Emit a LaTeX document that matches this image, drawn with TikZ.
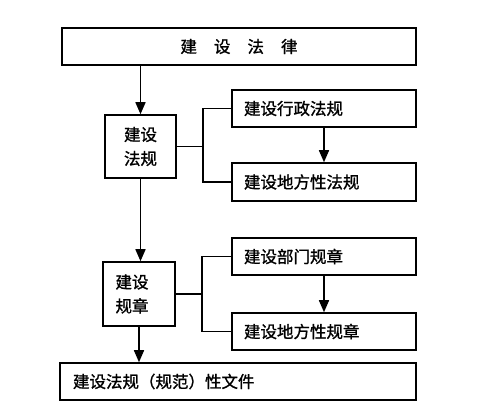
\documentclass[tikz,border=0pt]{standalone}
\usepackage{fontspec}
\newfontfamily\cjk[FakeBold=1.2]{Noto Sans CJK SC}
\usetikzlibrary{arrows.meta}
\tikzset{
  box/.style={draw, line width=1.5pt, inner sep=0pt, font=\cjk\fontsize{16.5pt}{22pt}\selectfont},
  wide/.style={box, minimum width=184pt, minimum height=37pt, text width=160pt, align=left},
  small/.style={box, minimum width=71pt, minimum height=63pt, align=center},
  link/.style={line width=1.5pt},
  arr/.style={line width=1.5pt, -{Triangle[length=12pt,width=10pt]}}
}
\begin{document}
\begin{tikzpicture}[x=1pt,y=-1pt]
\useasboundingbox (0,0) rectangle (488,414);
\node[box, minimum width=354pt, minimum height=37pt] (law) at (239,46.5) {建\hspace{17pt}设\hspace{17pt}法\hspace{17pt}律};
\node[small] (fagui) at (140.5,146.5) {建设\\[2pt]法规};
\node[wide] (xz) at (324,108.5) {建设行政法规};
\node[wide, minimum height=38pt] (dff) at (324,182) {建设地方性法规};
\node[small, minimum width=72pt, minimum height=64pt] (gz) at (139,294) {建设\hspace*{14pt}\\[2pt]规章\hspace*{14pt}};
\node[wide] (bm) at (324,256.5) {建设部门规章};
\node[wide] (dfg) at (324,331.5) {建设地方性规章};
\node[box, minimum width=356pt, minimum height=37pt, text width=330pt, align=left] (doc) at (238,381.5) {建设法规（规范）性文件};
\coordinate (j1) at (203,146.5);
\coordinate (j2) at (202,294);
\draw[arr] (law.south -| fagui.north) -- (fagui.north);
\draw[link] (fagui.east) -- (j1);
\draw[link] (xz.west) -| (j1) |- (dff.west);
\draw[arr] (xz.south) -- (dff.north);
\draw[arr] (fagui.south) -- (fagui.south |- gz.north);
\draw[link] (gz.east) -- (j2);
\draw[link] (bm.west) -| (j2) |- (dfg.west);
\draw[arr] (bm.south) -- (dfg.north);
\draw[arr] (gz.south) -- (gz.south |- doc.north);
\end{tikzpicture}
\end{document}
